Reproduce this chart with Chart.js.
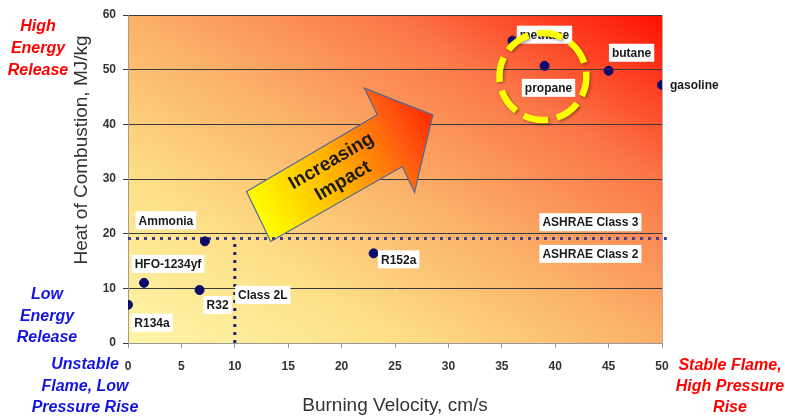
<!DOCTYPE html>
<html>
<head>
<meta charset="utf-8">
<script src="https://cdn.jsdelivr.net/npm/chart.js@4.4.0/dist/chart.umd.min.js"></script>
<style>
  html, body { margin: 0; padding: 0; background: #fff; }
  #wrap { width: 785px; height: 418px; }
</style>
</head>
<body>
<div id="wrap"><canvas id="fuel_chart" width="785" height="418"></canvas></div>
<script>
// refrigerants and fuels
var names = ['R134a', 'HFO-1234yf', 'R32', 'Ammonia', 'R152a', 'methane', 'propane', 'butane', 'gasoline'];
var burningVelocity = [0, 1.5, 6.7, 7.2, 23.0, 36.0, 39.0, 45.0, 50.0];
var heatOfCombustion = [7.0, 11.0, 9.7, 18.6, 16.4, 55.3, 50.7, 49.8, 47.2];

var xTickValues = [0, 5, 10, 15, 20, 25, 30, 35, 40, 45, 50];
var yTickValues = [0, 10, 20, 30, 40, 50, 60];

// ASHRAE class boundaries
var class3Heat = 19.1;
var class2LVelocity = 10;
var class3LineEnd = 50.45;

// label placement (pixels from the point)
var labelOffsets = [[24, 18], [24, -19], [18, 15], [-39, -21], [25, 6], [32, -6], [4, 22], [23, -18], [8, 0]];

var FONT = '"Liberation Sans", Arial, sans-serif';

var points = [];
for (var i in names) {
    points.push({ x: burningVelocity[i], y: heatOfCombustion[i] });
}

function labelBox(ctx, text, cx, cy, left) {
    ctx.font = 'bold 12px ' + FONT;
    var w = ctx.measureText(text).width;
    var x = left ? cx : cx - w / 2;
    if (!left) {
        ctx.fillStyle = '#ffffff';
        ctx.fillRect(x - 3, cy - 9, w + 6, 18);
    }
    ctx.fillStyle = '#1a1a1a';
    ctx.textAlign = 'left';
    ctx.textBaseline = 'middle';
    ctx.fillText(text, x, cy + 1);
}

function lines(ctx, arr, cx, cy, gap) {
    for (var j = 0; j < arr.length; j++) {
        ctx.fillText(arr[j], cx, cy + j * gap);
    }
}

var decor = {
    id: 'decor',
    beforeDraw: function (chart) {
        var ctx = chart.ctx, a = chart.chartArea;
        var W = a.right - a.left, H = a.bottom - a.top;
        var k = 2 * W * H / (W * W + H * H);
        var g = ctx.createLinearGradient(a.left, a.bottom, a.left + k * H, a.bottom - k * W);
        g.addColorStop(0, '#fff6a8');
        g.addColorStop(0.25, '#fde088');
        g.addColorStop(0.5, '#fbb068');
        g.addColorStop(0.75, '#fb7446');
        g.addColorStop(1, '#ff1000');
        ctx.save();
        ctx.fillStyle = g;
        ctx.fillRect(a.left, a.top, W, H);
        ctx.strokeStyle = '#b8b0a8';
        ctx.lineWidth = 1;
        ctx.beginPath();
        ctx.moveTo(a.right + 0.5, a.top);
        ctx.lineTo(a.right + 0.5, a.bottom);
        ctx.stroke();
        ctx.restore();
    },
    beforeDatasetsDraw: function (chart) {
        var ctx = chart.ctx, xs = chart.scales.x, ys = chart.scales.y;
        // "Increasing Impact" arrow, in data units
        var arrow = [[11.1, 27.7], [23.34, 41.74], [22.14, 46.62], [28.54, 41.74],
                     [26.83, 27.53], [25.69, 32.28], [13.36, 18.57]];
        var p = arrow.map(function (q) { return [xs.getPixelForValue(q[0]), ys.getPixelForValue(q[1])]; });
        var tailX = (p[0][0] + p[6][0]) / 2, tailY = (p[0][1] + p[6][1]) / 2;
        var g = ctx.createLinearGradient(tailX, tailY, p[3][0], p[3][1]);
        g.addColorStop(0, '#ffff00');
        g.addColorStop(0.45, '#ffb000');
        g.addColorStop(0.8, '#ff5a10');
        g.addColorStop(1, '#ff2a00');
        ctx.save();
        ctx.beginPath();
        ctx.moveTo(p[0][0], p[0][1]);
        for (var n = 1; n < p.length; n++) ctx.lineTo(p[n][0], p[n][1]);
        ctx.closePath();
        ctx.fillStyle = g;
        ctx.fill();
        ctx.strokeStyle = '#4f6a9a';
        ctx.lineWidth = 1.2;
        ctx.stroke();
        var ang = Math.atan2(p[3][1] - tailY, p[3][0] - tailX);
        ctx.translate(tailX + (p[3][0] - tailX) * 0.45, tailY + (p[3][1] - tailY) * 0.45);
        ctx.rotate(ang);
        ctx.fillStyle = '#1a1a1a';
        ctx.font = 'bold 19px ' + FONT;
        ctx.textAlign = 'center';
        ctx.textBaseline = 'middle';
        ctx.fillText('Increasing', 0, -11);
        ctx.fillText('Impact', 0, 12);
        ctx.restore();
    },
    afterDatasetsDraw: function (chart) {
        var ctx = chart.ctx, xs = chart.scales.x, ys = chart.scales.y;
        ctx.save();
        for (var i = 0; i < names.length; i++) {
            var px = xs.getPixelForValue(burningVelocity[i]);
            var py = ys.getPixelForValue(heatOfCombustion[i]);
            var off = labelOffsets[i];
            labelBox(ctx, names[i], px + off[0], py + off[1], names[i] === 'gasoline');
        }
        labelBox(ctx, 'Class 2L', xs.getPixelForValue(class2LVelocity) + 28, ys.getPixelForValue(8.8), false);
        labelBox(ctx, 'ASHRAE Class 3', xs.getPixelForValue(43.3), ys.getPixelForValue(22.1), false);
        labelBox(ctx, 'ASHRAE Class 2', xs.getPixelForValue(43.3), ys.getPixelForValue(16.3), false);

        // highlight circle round propane
        var cx = xs.getPixelForValue(38.85), cy = ys.getPixelForValue(48.75);
        ctx.shadowColor = 'rgba(0,0,0,0.35)';
        ctx.shadowBlur = 3;
        ctx.shadowOffsetX = 1.5;
        ctx.shadowOffsetY = 1.5;
        ctx.strokeStyle = '#ffff00';
        ctx.lineWidth = 6.5;
        ctx.setLineDash([25, 9]);
        ctx.beginPath();
        ctx.arc(cx, cy, 43.5, -1.68, -1.68 + Math.PI * 2);
        ctx.stroke();
        ctx.restore();
    },
    afterDraw: function (chart) {
        var ctx = chart.ctx;
        ctx.save();
        ctx.textAlign = 'center';
        ctx.textBaseline = 'middle';
        ctx.font = 'italic bold 16px ' + FONT;
        ctx.fillStyle = '#ff0000';
        lines(ctx, ['High', 'Energy', 'Release'], 38, 27, 22);
        lines(ctx, ['Stable Flame,', 'High Pressure', 'Rise'], 730, 366, 21);
        ctx.fillStyle = '#1414e0';
        lines(ctx, ['Low', 'Energy', 'Release'], 47, 295, 21.5);
        lines(ctx, ['Unstable', 'Flame, Low', 'Pressure Rise'], 85, 365, 21.5);

        // y axis title
        ctx.translate(82, 150);
        ctx.rotate(-Math.PI / 2);
        ctx.font = '19px ' + FONT;
        ctx.fillStyle = '#333333';
        ctx.fillText('Heat of Combustion, MJ/kg', 0, 0);
        ctx.restore();
    }
};

var ctx = document.getElementById('fuel_chart');

var fuelChart = new Chart(ctx, {
    type: 'scatter',
    data: {
        datasets: [
            {
                label: 'Fluids',
                data: points,
                backgroundColor: '#0b0b6e',
                borderColor: '#0b0b6e',
                pointRadius: 4.5,
                pointHoverRadius: 4.5
            },
            {
                label: 'Class 3 limit',
                type: 'line',
                data: [{ x: 0, y: class3Heat }, { x: class3LineEnd, y: class3Heat }],
                borderColor: '#403ca0',
                borderWidth: 3,
                borderDash: [3, 5],
                pointRadius: 0,
                showLine: true,
                clip: false
            },
            {
                label: 'Class 2L limit',
                type: 'line',
                data: [{ x: class2LVelocity, y: 0 }, { x: class2LVelocity, y: class3Heat }],
                borderColor: '#1e1e78',
                borderWidth: 3,
                borderDash: [3, 5],
                pointRadius: 0,
                showLine: true,
                clip: false
            }
        ]
    },
    options: {
        responsive: false,
        animation: false,
        layout: { padding: { left: 0, right: 123, top: 15, bottom: 0 } },
        plugins: {
            legend: { display: false },
            tooltip: { enabled: false }
        },
        scales: {
            x: {
                type: 'linear',
                min: 0,
                max: 50,
                afterBuildTicks: function (scale) {
                    scale.ticks = xTickValues.map(function (v) { return { value: v }; });
                },
                afterFit: function (scale) { scale.height = 75; },
                grid: { drawOnChartArea: false, drawTicks: true, tickLength: 5, color: '#999999' },
                border: { color: '#999999' },
                ticks: { color: '#333333', font: { family: FONT, size: 12, weight: 'bold' }, padding: 11 },
                title: {
                    display: true,
                    text: 'Burning Velocity, cm/s',
                    color: '#333333',
                    font: { family: FONT, size: 19 },
                    padding: { top: 0, bottom: 1 }
                }
            },
            y: {
                type: 'linear',
                min: 0,
                max: 60,
                afterBuildTicks: function (scale) {
                    scale.ticks = yTickValues.map(function (v) { return { value: v }; });
                },
                afterFit: function (scale) { scale.width = 128; },
                grid: { color: '#3a3a3a', lineWidth: 1, tickLength: 5 },
                border: { color: '#a89c88' },
                ticks: { color: '#333333', font: { family: FONT, size: 12, weight: 'bold' }, padding: 7 }
            }
        }
    },
    plugins: [decor]
});
</script>
</body>
</html>
